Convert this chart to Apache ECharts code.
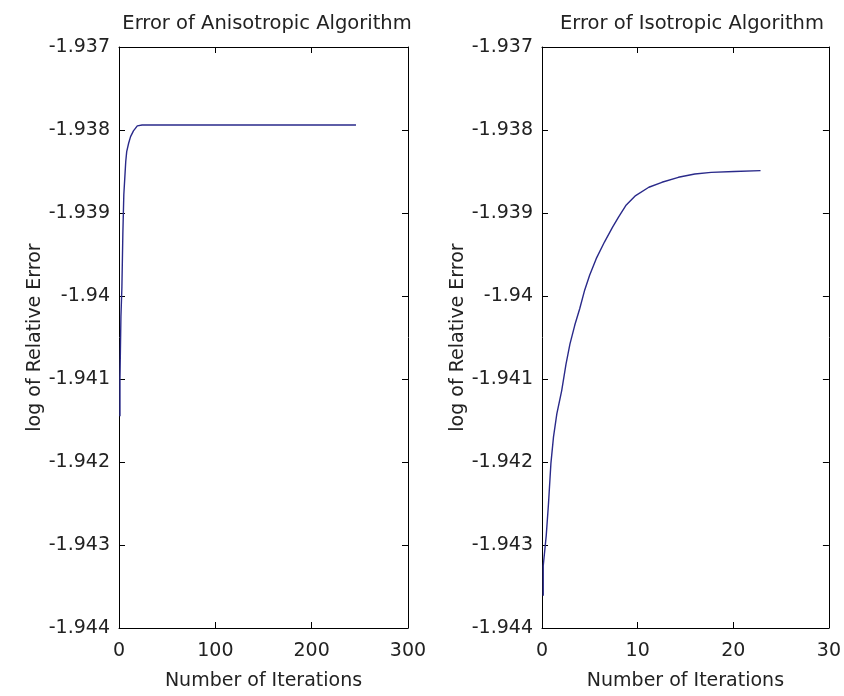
<!DOCTYPE html>
<html>
<head>
<meta charset="utf-8">
<script src="https://cdn.jsdelivr.net/npm/echarts@6/dist/echarts.min.js"></script>
<style>html,body{margin:0;padding:0;background:#fff}#c{width:844px;height:696px}</style>
</head>
<body>
<div id="c"></div>
<script>
// Left panel: Anisotropic algorithm
const anisoIter = [1, 1, 2, 3, 4, 5, 6, 7, 8, 10, 12, 15, 19, 24, 246];
const anisoErr  = [-1.94145, -1.94100, -1.94025, -1.93990, -1.93925, -1.93878, -1.93858, -1.93838, -1.93826, -1.93816, -1.93808, -1.93801, -1.93795, -1.93794, -1.93794];
// Right panel: Isotropic algorithm
const isoIter = [0.13, 0.13, 0.44, 0.68, 0.93, 1.2, 1.55, 2.06, 2.51, 2.92, 3.43, 3.95, 4.46, 4.98, 5.67, 6.53, 7.38, 8.0, 8.76, 9.79, 11.17, 12.54, 14.26, 15.98, 17.69, 20.1, 22.85];
const isoErr  = [-1.94361, -1.94325, -1.94289, -1.94250, -1.94202, -1.94170, -1.94142, -1.94114, -1.94082, -1.94058, -1.94035, -1.94015, -1.93993, -1.93975, -1.93955, -1.93935, -1.93917, -1.93905, -1.93891, -1.93879, -1.93869, -1.93863, -1.93857, -1.93853, -1.93851, -1.93850, -1.93849];

const titles = ['Error of Anisotropic Algorithm', 'Error of Isotropic Algorithm'];
const xName = 'Number of Iterations';
const yName = 'log of Relative Error';
const yMin = -1.944, yMax = -1.937, yStep = 0.001;
const xMaxes = [300, 30], xSteps = [100, 10];

const FONT = 'DejaVu Sans';
const TXT = '#222';
const AX = '#000';

function pairs(xs, ys){ return xs.map((x,i)=>[x, ys[i]]); }
function fmtY(v){ return String(parseFloat(v.toFixed(3))); }

const grids = [
  {left:119, top:47, width:289, height:586, show:false},
  {left:542, top:47, width:291, height:586, show:false}
];

const xAxes = [], yAxes = [];
[0,1].forEach(g=>{
  xAxes.push({
    type:'value', gridIndex:g, position:'bottom', min:0, max:xMaxes[g], interval:xSteps[g],
    axisLine:{show:true, onZero:false, lineStyle:{color:AX, width:1}},
    axisTick:{show:true, inside:true, length:6, lineStyle:{color:AX}},
    axisLabel:{show:true, color:TXT, fontFamily:FONT, fontSize:19, margin:14},
    splitLine:{show:false},
    name:xName, nameLocation:'middle', nameGap:44,
    nameTextStyle:{color:TXT, fontFamily:FONT, fontSize:19}
  });
  xAxes.push({
    type:'value', gridIndex:g, position:'top', min:0, max:xMaxes[g], interval:xSteps[g],
    axisLine:{show:true, onZero:false, lineStyle:{color:AX, width:1}},
    axisTick:{show:true, inside:true, length:6, lineStyle:{color:AX}},
    axisLabel:{show:false}, splitLine:{show:false}
  });
  yAxes.push({
    type:'value', gridIndex:g, position:'left', min:yMin, max:yMax, interval:yStep,
    axisLine:{show:true, onZero:false, lineStyle:{color:AX, width:1}},
    axisTick:{show:true, inside:true, length:6, lineStyle:{color:AX}},
    axisLabel:{show:true, color:TXT, fontFamily:FONT, fontSize:19, margin:9, formatter:fmtY},
    splitLine:{show:false},
    name:yName, nameLocation:'middle', nameGap:72, nameRotate:90,
    nameTextStyle:{color:TXT, fontFamily:FONT, fontSize:19}
  });
  yAxes.push({
    type:'value', gridIndex:g, position:'right', min:yMin, max:yMax, interval:yStep,
    axisLine:{show:true, onZero:false, lineStyle:{color:AX, width:1}},
    axisTick:{show:true, inside:true, length:6, lineStyle:{color:AX}},
    axisLabel:{show:false}, splitLine:{show:false}
  });
});

const option = {
  backgroundColor:'#fff',
  animation:false,
  title:[
    {text:titles[0], left:262, top:9, textAlign:'center', textStyle:{color:TXT, fontFamily:FONT, fontSize:19.5, fontWeight:'normal'}},
    {text:titles[1], left:687, top:9, textAlign:'center', textStyle:{color:TXT, fontFamily:FONT, fontSize:19.5, fontWeight:'normal'}}
  ],
  grid:grids,
  xAxis:xAxes,
  yAxis:yAxes,
  series:[
    {type:'line', xAxisIndex:0, yAxisIndex:0, data:pairs(anisoIter, anisoErr), showSymbol:false, lineStyle:{color:'#2a2a8a', width:1.4}},
    {type:'line', xAxisIndex:2, yAxisIndex:2, data:pairs(isoIter, isoErr), showSymbol:false, lineStyle:{color:'#2a2a8a', width:1.4}}
  ]
};
echarts.init(document.getElementById('c')).setOption(option);
</script>
</body>
</html>
